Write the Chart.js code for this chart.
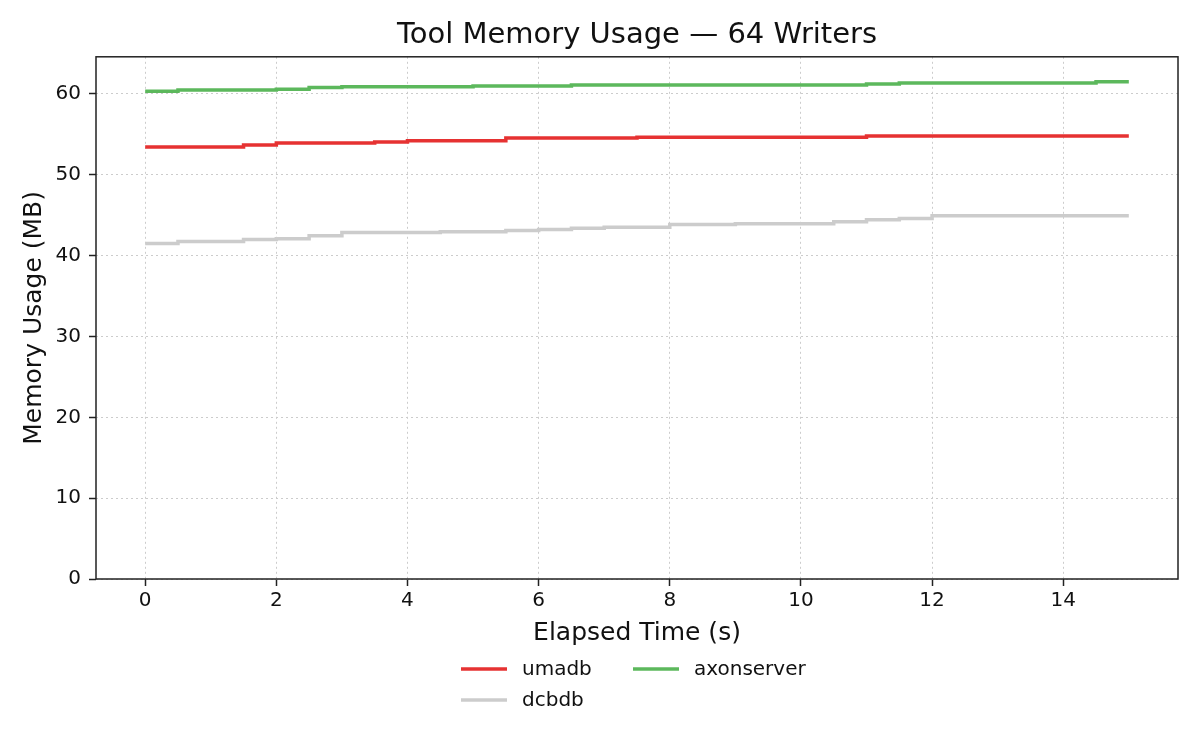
<!DOCTYPE html>
<html>
<head>
<meta charset="utf-8">
<title>Tool Memory Usage</title>
<script src="https://cdn.jsdelivr.net/npm/chart.js@4/dist/chart.umd.min.js"></script>
<style>
  body { margin: 0; background: #fff; }
  #wrap { width: 1200px; height: 750px; }
</style>
</head>
<body>
<div id="wrap"><canvas id="chart" width="1200" height="750"></canvas></div>
<script>
// elapsed seconds, sampled every 0.5 s
var times = [0, 0.5, 1, 1.5, 2, 2.5, 3, 3.5, 4, 4.5, 5, 5.5, 6, 6.5, 7, 7.5,
    8, 8.5, 9, 9.5, 10, 10.5, 11, 11.5, 12, 12.5, 13, 13.5, 14, 14.5, 15];

var umadb = [53.45, 53.45, 53.45, 53.7, 53.95, 53.95, 53.95, 54.05, 54.2, 54.2, 54.2,
    54.55, 54.55, 54.55, 54.55, 54.65, 54.65, 54.65, 54.65, 54.65, 54.65, 54.65,
    54.8, 54.8, 54.8, 54.8, 54.8, 54.8, 54.8, 54.8, 54.8];

var dcbdb = [41.5, 41.75, 41.75, 42.0, 42.1, 42.45, 42.85, 42.85, 42.85, 42.95, 42.95,
    43.1, 43.25, 43.4, 43.5, 43.5, 43.85, 43.85, 43.95, 43.95, 43.95, 44.2,
    44.45, 44.6, 44.95, 44.95, 44.95, 44.95, 44.95, 44.95, 44.95];

var axonserver = [60.35, 60.5, 60.5, 60.5, 60.6, 60.8, 60.9, 60.9, 60.9, 60.9, 61.0,
    61.0, 61.0, 61.1, 61.1, 61.1, 61.1, 61.1, 61.1, 61.1, 61.1, 61.1,
    61.25, 61.35, 61.35, 61.35, 61.35, 61.35, 61.35, 61.5, 61.5];

var xTicks = [0, 2, 4, 6, 8, 10, 12, 14];
var yTicks = [0, 10, 20, 30, 40, 50, 60];

var font = "'DejaVu Sans', sans-serif";

function toPoints(values) {
    return values.map(function (v, i) { return { x: times[i], y: v }; });
}

function series(label, values, color) {
    return {
        label: label,
        data: toPoints(values),
        borderColor: color,
        backgroundColor: color,
        borderWidth: 3.5,
        pointRadius: 0,
        stepped: 'before',
        fill: false
    };
}

// full box around the plot, like a matplotlib axes frame
var frame = {
    id: 'frame',
    afterDatasetsDraw: function (chart) {
        var a = chart.chartArea, ctx = chart.ctx;
        ctx.save();
        ctx.strokeStyle = '#222';
        ctx.lineWidth = 1.5;
        ctx.strokeRect(a.left, a.top, a.right - a.left, a.bottom - a.top);
        ctx.restore();
    }
};

// two column legend under the axis title (column-major like matplotlib)
var legendBox = {
    id: 'legendBox',
    afterDraw: function (chart) {
        var ctx = chart.ctx;
        var cols = [461, 633];
        var rows = [669, 700];
        ctx.save();
        ctx.font = "20px " + font;
        ctx.textBaseline = 'middle';
        chart.data.datasets.forEach(function (ds, i) {
            var x = cols[Math.floor(i / 2)];
            var y = rows[i % 2];
            ctx.strokeStyle = ds.borderColor;
            ctx.lineWidth = 3.5;
            ctx.beginPath();
            ctx.moveTo(x, y);
            ctx.lineTo(x + 46, y);
            ctx.stroke();
            ctx.fillStyle = '#111';
            ctx.fillText(ds.label, x + 61, y + 1);
        });
        ctx.restore();
    }
};

var ctx = document.getElementById('chart');
new Chart(ctx, {
    type: 'line',
    data: {
        datasets: [
            series('umadb', umadb, '#e63232'),
            series('dcbdb', dcbdb, '#cccccc'),
            series('axonserver', axonserver, '#5cb85c')
        ]
    },
    options: {
        responsive: false,
        animation: false,
        layout: { padding: { left: 19, right: 22, top: 0, bottom: 102 } },
        plugins: {
            legend: { display: false },
            tooltip: { enabled: false },
            title: {
                display: true,
                fullSize: false,
                text: 'Tool Memory Usage — 64 Writers',
                color: '#111',
                font: { family: font, size: 29, weight: 'normal' },
                padding: { top: 18, bottom: 4 }
            }
        },
        scales: {
            x: {
                type: 'linear',
                min: -0.75,
                max: 15.75,
                afterBuildTicks: function (s) { s.ticks = xTicks.map(function (v) { return { value: v }; }); },
                afterFit: function (s) { s.height = 69; },
                ticks: { color: '#111', font: { family: font, size: 20 }, padding: 3, maxRotation: 0 },
                grid: { color: '#cccccc', lineWidth: 1, tickColor: '#222', tickWidth: 1.5, tickLength: 7, tickBorderDash: [] },
                border: { display: false, dash: [2, 3] },
                title: { display: true, text: 'Elapsed Time (s)', color: '#111', font: { family: font, size: 25 }, padding: 0 }
            },
            y: {
                min: 0,
                max: 64.6,
                afterBuildTicks: function (s) { s.ticks = yTicks.map(function (v) { return { value: v }; }); },
                afterFit: function (s) { s.width = 77; },
                ticks: { color: '#111', font: { family: font, size: 20 }, padding: 8 },
                grid: { color: '#cccccc', lineWidth: 1, tickColor: '#222', tickWidth: 1.5, tickLength: 7, tickBorderDash: [] },
                border: { display: false, dash: [2, 3] },
                title: { display: true, text: 'Memory Usage (MB)', color: '#111', font: { family: font, size: 25 }, padding: 0 }
            }
        }
    },
    plugins: [frame, legendBox]
});
</script>
</body>
</html>
